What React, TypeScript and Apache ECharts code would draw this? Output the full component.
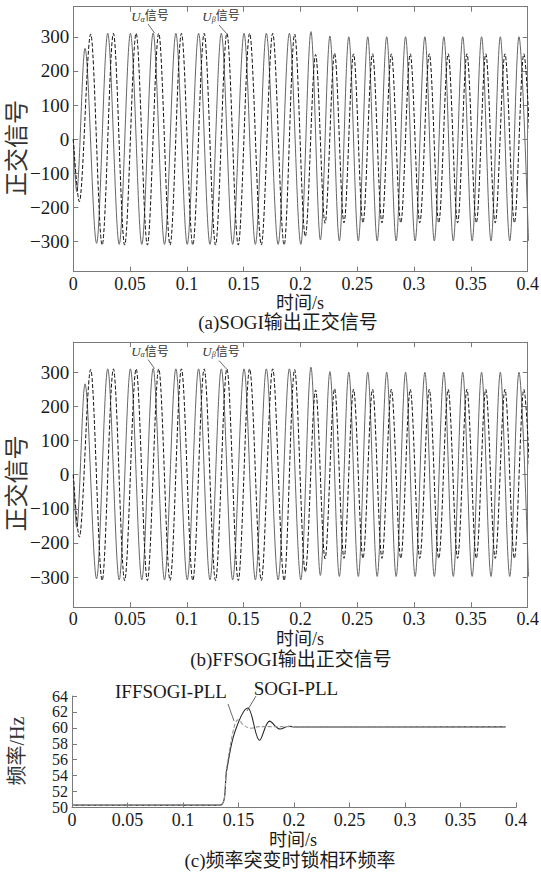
import React, { useEffect, useRef } from "react";
import * as echarts from "echarts";

const FONT = "Liberation Serif, Times New Roman, Noto Sans CJK SC, serif";
const TXT = "#1a1a1a";
const FRAME = "#7a7a7a";

// ---------- Panels (a) and (b): extrema of the quadrature signals [time s, value] ----------
const alphaA: [number, number][] = [
  [0, 0], [0.003, -154], [0.0103, 266], [0.0205, -305], [0.0303, 310], [0.0404, -308],
  [0.0503, 310], [0.0603, -308], [0.0703, 311], [0.0803, -308], [0.0903, 310], [0.1003, -308],
  [0.1103, 310], [0.1203, -308], [0.1303, 310], [0.1403, -308], [0.1503, 310], [0.1603, -308],
  [0.1699, 310], [0.1803, -308], [0.1902, 310], [0.2003, -308], [0.2092, 315], [0.2175, -295],
  [0.2259, 302], [0.2342, -298], [0.2425, 300], [0.2509, -298], [0.2592, 300], [0.2675, -298],
  [0.2759, 300], [0.2842, -298], [0.2925, 300], [0.3009, -298], [0.3095, 300], [0.3178, -298],
  [0.3262, 300], [0.3345, -298], [0.3428, 300], [0.3511, -298], [0.3594, 300], [0.3677, -298],
  [0.3759, 300], [0.3842, -298], [0.3923, 300], [0.4007, -298],
];
const betaA: [number, number][] = [
  [0, 0], [0.0053, -183], [0.0153, 308], [0.0254, -310], [0.0353, 310], [0.0452, -310],
  [0.0553, 310], [0.0652, -310], [0.0752, 310], [0.0852, -310], [0.0952, 310], [0.1052, -310],
  [0.1152, 310], [0.1252, -310], [0.1352, 310], [0.1452, -310], [0.1552, 310], [0.1655, -310],
  [0.1755, 310], [0.1856, -310], [0.1948, 308], [0.2042, -285], [0.2133, 248], [0.2216, -246],
  [0.23, 252], [0.2383, -245], [0.2467, 250], [0.255, -245], [0.2634, 250], [0.2717, -245],
  [0.28, 250], [0.2883, -245], [0.2966, 250], [0.305, -245], [0.3134, 250], [0.3217, -245],
  [0.33, 250], [0.3383, -245], [0.3465, 250], [0.3548, -245], [0.3631, 250], [0.3714, -245],
  [0.38, 250], [0.3883, -245], [0.3966, 250], [0.4049, -245],
];
// panel (b) traces read the same as panel (a)
const alphaB: [number, number][] = alphaA.map((p) => [p[0], p[1]]);
const betaB: [number, number][] = betaA.map((p) => [p[0], p[1]]);

// ---------- Panel (c): PLL frequency [time s, Hz] ----------
const sogiC: [number, number][] = [
  [0, 50.3], [0.1335, 50.3], [0.1395, 54.8], [0.1465, 59.4], [0.1584, 62.5], [0.169, 58.45],
  [0.178, 60.85], [0.1875, 59.85], [0.195, 60.2], [0.202, 60.1], [0.3906, 60.12],
];
const iffC: [number, number][] = [
  [0, 50.3], [0.1335, 50.3], [0.1395, 55.2], [0.1455, 59.8], [0.1495, 61.0], [0.1555, 60.25],
  [0.1615, 59.95], [0.168, 60.15], [0.3906, 60.12],
];

const X_MIN = 0, X_MAX = 0.4, X_STEP = 0.05;
const Y_AB_MIN = -388, Y_AB_MAX = 388;
const Y_C_MIN = 50, Y_C_MAX = 64, Y_C_STEP = 2;

const minus = (v: number) => String(v).replace("-", "\u2212");

const tick = { show: true, inside: true, length: 5, lineStyle: { color: FRAME, width: 1 } };
const line = { show: true, onZero: false, lineStyle: { color: FRAME, width: 1 } };
const lbl = { fontFamily: FONT, fontSize: 19, color: TXT };

function xAxes(grid: number, withTop: boolean) {
  const base: any[] = [
    {
      type: "value", gridIndex: grid, min: X_MIN, max: X_MAX, interval: X_STEP, position: "bottom",
      axisLine: line, axisTick: tick, splitLine: { show: false },
      axisLabel: { ...lbl, fontSize: 18, margin: 3, formatter: (v: number) => String(+v.toFixed(2)) },
    },
  ];
  if (withTop)
    base.push({
      type: "value", gridIndex: grid, min: X_MIN, max: X_MAX, interval: X_STEP, position: "top",
      axisLine: line, axisTick: tick, splitLine: { show: false }, axisLabel: { show: false },
    });
  return base;
}

function yAxesAB(grid: number) {
  const common = {
    type: "value", gridIndex: grid, min: Y_AB_MIN, max: Y_AB_MAX, splitNumber: 8,
    axisLine: line, axisTick: tick, splitLine: { show: false },
  };
  return [
    {
      ...common, position: "left",
      axisLabel: {
        ...lbl, margin: 4, showMinLabel: false, showMaxLabel: false,
        formatter: (v: number) => (Math.abs(v % 100) < 1e-6 ? minus(v) : ""),
      },
    },
    { ...common, position: "right", axisLabel: { show: false } },
  ];
}

function txt(text: string, x: number, y: number, size: number, extra: any = {}, fill = TXT) {
  return {
    type: "text", x, y, silent: true, ...extra,
    style: {
      text, fontFamily: FONT, fontSize: size, fill,
      align: "center", verticalAlign: "middle", textAlign: "center", textVerticalAlign: "middle",
    },
  };
}

function seg(x1: number, y1: number, x2: number, y2: number) {
  return { type: "line", silent: true, shape: { x1, y1, x2, y2 }, style: { stroke: "#444", lineWidth: 0.8 } };
}

function sub(sym: string, x: number, y: number) {
  return {
    type: "text", x, y, silent: true,
    style: {
      text: `{u|U}{s|${sym}}{c|信号}`,
      align: "center", verticalAlign: "middle", textAlign: "center", textVerticalAlign: "middle",
      rich: {
        u: { fontFamily: FONT, fontStyle: "italic", fontSize: 13, fill: "#333", lineHeight: 14 },
        s: { fontFamily: FONT, fontStyle: "italic", fontSize: 8, fill: "#333", verticalAlign: "bottom", lineHeight: 14 },
        c: { fontFamily: FONT, fontSize: 12, fill: "#333", lineHeight: 14 },
      },
    },
  };
}

const B_OFF = 335.5;

const option: any = {
  animation: false,
  backgroundColor: "#ffffff",
  grid: [
    { left: 73.3, top: 6.7, width: 454.4, height: 265, containLabel: false, outerBoundsMode: "none" },
    { left: 73.3, top: 6.7 + B_OFF, width: 454.4, height: 265, containLabel: false, outerBoundsMode: "none" },
    { left: 72, top: 696, width: 444, height: 111.5, containLabel: false, outerBoundsMode: "none" },
  ],
  xAxis: [
    ...xAxes(0, true),
    ...xAxes(1, true),
    ...xAxes(2, false),
  ],
  yAxis: [
    ...yAxesAB(0),
    ...yAxesAB(1),
    {
      type: "value", gridIndex: 2, min: Y_C_MIN, max: Y_C_MAX, interval: Y_C_STEP, position: "left",
      axisLine: line, axisTick: tick, splitLine: { show: false },
      axisLabel: {
        fontFamily: FONT, fontSize: 16, lineHeight: 15, color: TXT, margin: 4,
        showMinLabel: true, showMaxLabel: true, hideOverlap: false,
      },
    },
  ],
  series: [
    {
      type: "line", name: "Uα", xAxisIndex: 0, yAxisIndex: 0, data: alphaA, symbol: "none",
      smooth: 0.33, smoothMonotone: "x", lineStyle: { color: "#666", width: 1 }, silent: true,
    },
    {
      type: "line", name: "Uβ", xAxisIndex: 0, yAxisIndex: 0, data: betaA, symbol: "none",
      smooth: 0.33, smoothMonotone: "x", lineStyle: { color: "#111", width: 1, type: [4, 2] }, silent: true,
    },
    {
      type: "line", name: "Uα (b)", xAxisIndex: 2, yAxisIndex: 2, data: alphaB, symbol: "none",
      smooth: 0.33, smoothMonotone: "x", lineStyle: { color: "#666", width: 1 }, silent: true,
    },
    {
      type: "line", name: "Uβ (b)", xAxisIndex: 2, yAxisIndex: 2, data: betaB, symbol: "none",
      smooth: 0.33, smoothMonotone: "x", lineStyle: { color: "#111", width: 1, type: [4, 2] }, silent: true,
    },
    {
      type: "line", name: "SOGI-PLL", xAxisIndex: 4, yAxisIndex: 4, data: sogiC, symbol: "none",
      smooth: 0.35, lineStyle: { color: "#222", width: 1.1 }, silent: true,
    },
    {
      type: "line", name: "IFFSOGI-PLL", xAxisIndex: 4, yAxisIndex: 4, data: iffC, symbol: "none",
      smooth: 0.35, lineStyle: { color: "#999", width: 1.1, type: [4, 2] }, silent: true,
    },
  ],
  graphic: [
    // panel (a)
    txt("正交信号", 17, 148, 24, { rotation: Math.PI / 2 }, "#333"),
    txt("时间/s", 300, 303, 18),
    txt("(a)SOGI输出正交信号", 288, 322.5, 19),
    sub("α", 150, 16),
    seg(148, 24, 154.5, 33),
    sub("β", 221, 16),
    seg(219, 25, 226.5, 33.5),
    // panel (b)
    txt("正交信号", 17, 148 + B_OFF, 24, { rotation: Math.PI / 2 }, "#333"),
    txt("时间/s", 300, 639, 18),
    txt("(b)FFSOGI输出正交信号", 291, 659, 19),
    sub("α", 150, 16 + B_OFF),
    seg(148, 24 + B_OFF, 154.5, 33 + B_OFF),
    sub("β", 221, 16 + B_OFF),
    seg(219, 25 + B_OFF, 226.5, 33.5 + B_OFF),
    // panel (c)
    txt("频率/Hz", 17, 751, 20, { rotation: Math.PI / 2 }, "#333"),
    txt("时间/s", 293, 840, 18),
    txt("(c)频率突变时锁相环频率", 290, 860, 19),
    txt("IFFSOGI-PLL", 171, 691, 19),
    seg(228, 704, 234, 721),
    txt("SOGI-PLL", 296, 688, 19),
    seg(256, 696, 247, 711),
  ],
};

export default function App() {
  const ref = useRef<HTMLDivElement>(null);
  useEffect(() => {
    const chart = echarts.init(ref.current!, null, { renderer: "svg" });
    chart.setOption(option);
    return () => chart.dispose();
  }, []);
  return (
    <div
      ref={ref}
      style={{ position: "absolute", left: 0, top: 0, width: 541, height: 873, background: "#fff" }}
    />
  );
}
